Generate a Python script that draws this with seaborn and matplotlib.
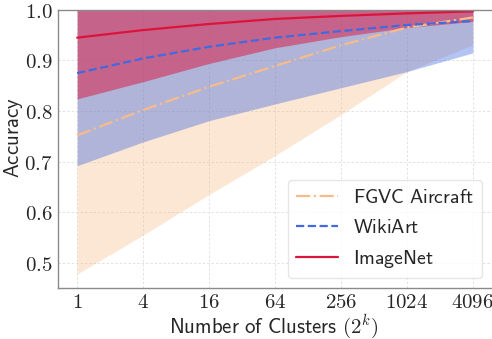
import numpy as np
import pandas as pd
import seaborn as sns
import matplotlib
matplotlib.use("Agg")
import matplotlib.pyplot as plt

clusters = [1, 4, 16, 64, 256, 1024, 4096]
tick_labels = ["1", "4", "16", "64", "256", "1024", "4096"]

fgvc_mean = [0.752, 0.802, 0.848, 0.889, 0.930, 0.965, 0.985]
fgvc_low = [0.478, 0.555, 0.635, 0.712, 0.793, 0.878, 0.931]
fgvc_high = [1.03, 1.03, 1.03, 1.03, 1.03, 1.03, 1.03]

wiki_mean = [0.875, 0.904, 0.927, 0.945, 0.958, 0.970, 0.978]
wiki_low = [0.692, 0.739, 0.781, 0.814, 0.846, 0.878, 0.915]
wiki_high = [1.03, 1.03, 1.03, 1.03, 1.03, 1.03, 1.03]

imnet_mean = [0.945, 0.960, 0.972, 0.982, 0.988, 0.993, 0.997]
imnet_low = [0.824, 0.858, 0.894, 0.925, 0.947, 0.965, 0.977]
imnet_high = [1.03, 1.03, 1.03, 1.03, 1.03, 1.03, 1.03]

series = [
    ("FGVC Aircraft", fgvc_mean, fgvc_low, fgvc_high, "#F7BC88", "-.", 0.36),
    ("WikiArt", wiki_mean, wiki_low, wiki_high, "#4169E1", "--", 0.4),
    ("ImageNet", imnet_mean, imnet_low, imnet_high, "#DC143C", "-", 0.5),
]

rows = []
for name, m, lo, hi, *_ in series:
    for c, a, b, d in zip(clusters, m, lo, hi):
        rows.append({"dataset": name, "k": np.log2(c), "acc": a, "low": b, "high": d})
df = pd.DataFrame(rows)

sns.set_style("whitegrid")
plt.rcParams["mathtext.fontset"] = "cm"
plt.rcParams["font.family"] = ["DejaVu Sans"]

fig, ax = plt.subplots(figsize=(4.92, 3.39), dpi=100)
fig.subplots_adjust(left=0.118, right=1.0, top=0.971, bottom=0.15)

for name, m, lo, hi, col, ls, alpha in series:
    sub = df[df["dataset"] == name]
    ax.fill_between(sub["k"], sub["low"], sub["high"], color=col, alpha=alpha, linewidth=0)
for name, m, lo, hi, col, ls, alpha in series:
    sub = df[df["dataset"] == name]
    sns.lineplot(data=sub, x="k", y="acc", ax=ax, color=col, linestyle=ls, linewidth=1.6,
                 label=r"$\mathsf{" + name.replace(" ", r"\ ") + "}$")

ax.set_xlim(-0.58, 12.58)
ax.set_ylim(0.45, 1.0)
ax.set_xticks(np.log2(clusters))
ax.set_xticklabels([f"${t}$" for t in tick_labels], fontsize=15)
yt = [0.5, 0.6, 0.7, 0.8, 0.9, 1.0]
ax.set_yticks(yt)
ax.set_yticklabels([f"${v:.1f}$" for v in yt], fontsize=15)
ax.set_xlabel(r"$\mathsf{Number\ of\ Clusters}\ (2^k)$", fontsize=15)
ax.set_ylabel(r"$\mathsf{Accuracy}$", fontsize=15)
ax.xaxis.set_label_coords(0.496, -0.09)
ax.yaxis.set_label_coords(-0.076, 0.54)
ax.tick_params(axis="both", length=0)
ax.tick_params(axis="x", pad=2.5)
ax.tick_params(axis="y", pad=4)
for s in ["left", "bottom", "top"]:
    ax.spines[s].set_color("#8a8a8a")
    ax.spines[s].set_linewidth(1.0)
ax.spines["right"].set_visible(False)
ax.grid(True, linestyle=(0, (2.5, 2)), color="#e2e2e2", linewidth=0.7)
ax.set_axisbelow(True)

leg = ax.legend(loc="lower right", fontsize=14.3, frameon=True, fancybox=True,
                edgecolor="#e0e0e0", framealpha=0.8, labelspacing=0.55,
                handlelength=2.1)

fig.savefig("out.png", dpi=100)
